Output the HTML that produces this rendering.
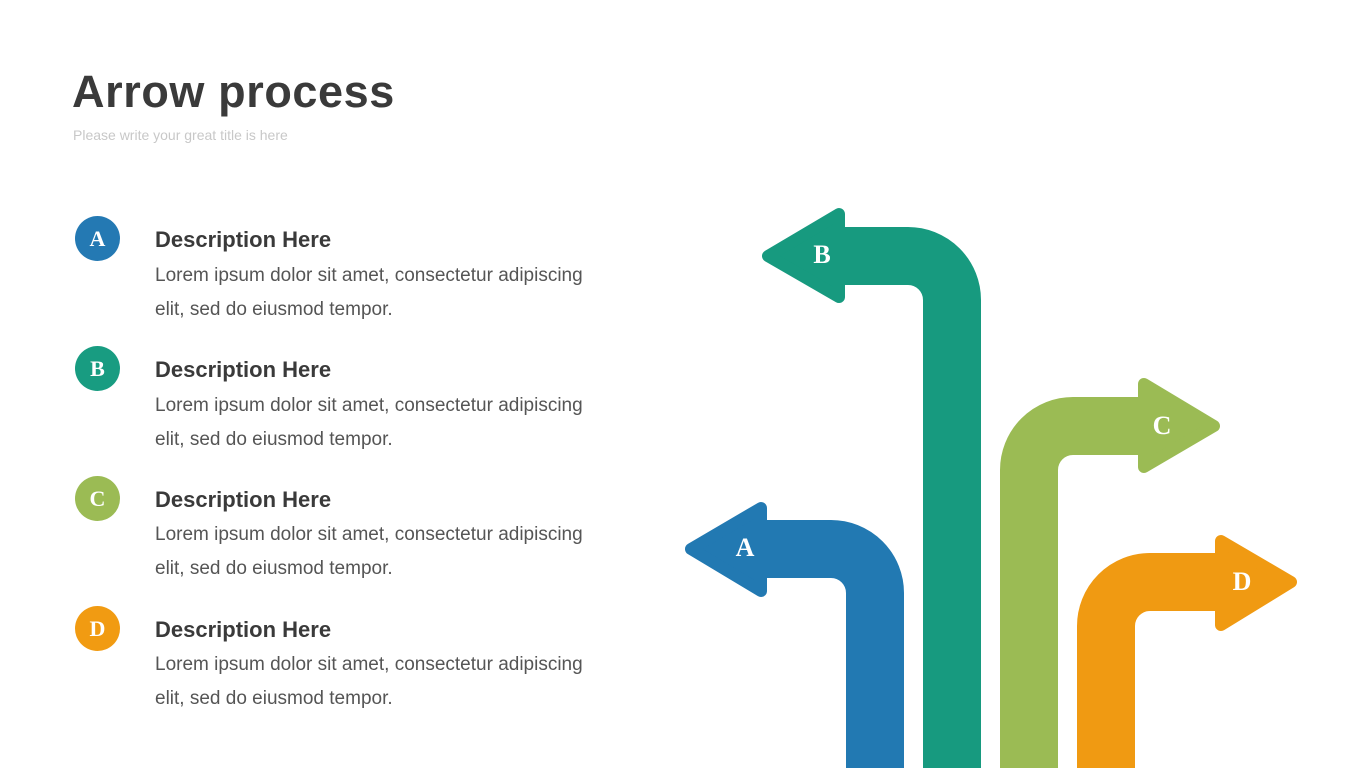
<!DOCTYPE html>
<html><head><meta charset="utf-8"><style>
body{margin:0;width:1365px;height:768px;background:#fff;position:relative;overflow:hidden;font-family:"Liberation Sans",sans-serif}
.t{position:absolute;left:72px;top:66px;font-size:45px;font-weight:bold;color:#3a3a3a;letter-spacing:0.6px}
.s{position:absolute;left:73px;top:127px;font-size:14px;color:#c8c8c8}
.c{position:absolute;left:75px;width:45px;height:45px;border-radius:50%;color:#fff;font:bold 22px "Liberation Serif",serif;text-align:center;line-height:45px}
.h{position:absolute;left:155px;font-size:22px;font-weight:bold;color:#3a3a3a}
.p{position:absolute;left:155px;font-size:19px;color:#555;line-height:34px;width:460px}
</style></head><body>
<div class="t">Arrow process</div>
<div class="s">Please write your great title is here</div>

<div class="c" style="top:216px;background:#2479b3">A</div>
<div class="h" style="top:227px">Description Here</div>
<div class="p" style="top:259px">Lorem ipsum dolor sit amet, consectetur adipiscing<br>elit, sed do eiusmod tempor.</div>

<div class="c" style="top:346px;background:#189c81">B</div>
<div class="h" style="top:357px">Description Here</div>
<div class="p" style="top:389px">Lorem ipsum dolor sit amet, consectetur adipiscing<br>elit, sed do eiusmod tempor.</div>

<div class="c" style="top:476px;background:#9bbb54">C</div>
<div class="h" style="top:487px">Description Here</div>
<div class="p" style="top:518px">Lorem ipsum dolor sit amet, consectetur adipiscing<br>elit, sed do eiusmod tempor.</div>

<div class="c" style="top:606px;background:#f19b12">D</div>
<div class="h" style="top:617px">Description Here</div>
<div class="p" style="top:648px">Lorem ipsum dolor sit amet, consectetur adipiscing<br>elit, sed do eiusmod tempor.</div>

<svg width="1365" height="768" style="position:absolute;left:0;top:0" font-family="Liberation Serif,serif" font-weight="bold" font-size="26">
<g fill="none" stroke-width="58">
<path d="M875 800 V593 A44 44 0 0 0 831 549 H760" stroke="#2279b2"/>
<path d="M952 800 V300 A44 44 0 0 0 908 256 H835" stroke="#179a7f"/>
<path d="M1029 800 V470 A44 44 0 0 1 1073 426 H1145" stroke="#9bbb54"/>
<path d="M1106 800 V626 A44 44 0 0 1 1150 582 H1222" stroke="#f09a12"/>
</g>
<g stroke-width="12" stroke-linejoin="round">
<polygon points="691,549 761,508 761,591" fill="#2279b2" stroke="#2279b2"/>
<polygon points="768,256 839,214 839,297" fill="#179a7f" stroke="#179a7f"/>
<polygon points="1214,426 1144,384 1144,467" fill="#9bbb54" stroke="#9bbb54"/>
<polygon points="1291,582 1221,541 1221,625" fill="#f09a12" stroke="#f09a12"/>
</g>
<g fill="#fff" text-anchor="middle">
<text x="745" y="556">A</text>
<text x="822" y="263">B</text>
<text x="1162" y="434">C</text>
<text x="1242" y="590">D</text>
</g>
</svg>
</body></html>
